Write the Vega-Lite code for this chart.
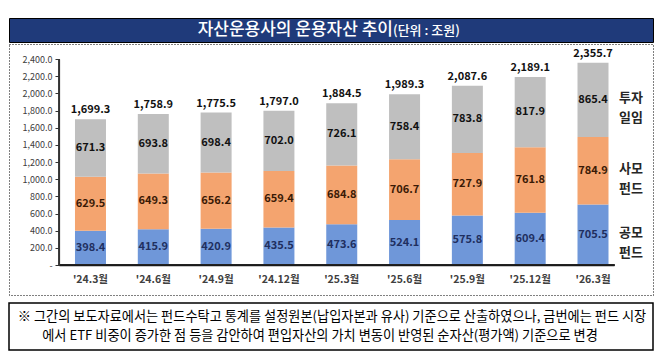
{
  "$schema": "https://vega.github.io/schema/vega-lite/v6.json",
  "padding": {"left": 8, "top": 17, "right": 0, "bottom": 0},
  "background": "white",
  "config": {"view": {"stroke": null}, "font": "Noto Sans CJK KR", "axis": {"domain": true}},
  "datasets": {
    "stack": [
      {"month": "'24.3월", "type": "공모펀드", "k": 1, "value": 398.4, "lab": "공모\n펀드"},
      {"month": "'24.3월", "type": "사모펀드", "k": 2, "value": 629.5, "lab": "사모\n펀드"},
      {"month": "'24.3월", "type": "투자일임", "k": 3, "value": 671.3, "lab": "투자\n일임"},
      {"month": "'24.6월", "type": "공모펀드", "k": 1, "value": 415.9, "lab": "공모\n펀드"},
      {"month": "'24.6월", "type": "사모펀드", "k": 2, "value": 649.3, "lab": "사모\n펀드"},
      {"month": "'24.6월", "type": "투자일임", "k": 3, "value": 693.8, "lab": "투자\n일임"},
      {"month": "'24.9월", "type": "공모펀드", "k": 1, "value": 420.9, "lab": "공모\n펀드"},
      {"month": "'24.9월", "type": "사모펀드", "k": 2, "value": 656.2, "lab": "사모\n펀드"},
      {"month": "'24.9월", "type": "투자일임", "k": 3, "value": 698.4, "lab": "투자\n일임"},
      {"month": "'24.12월", "type": "공모펀드", "k": 1, "value": 435.5, "lab": "공모\n펀드"},
      {"month": "'24.12월", "type": "사모펀드", "k": 2, "value": 659.4, "lab": "사모\n펀드"},
      {"month": "'24.12월", "type": "투자일임", "k": 3, "value": 702.0, "lab": "투자\n일임"},
      {"month": "'25.3월", "type": "공모펀드", "k": 1, "value": 473.6, "lab": "공모\n펀드"},
      {"month": "'25.3월", "type": "사모펀드", "k": 2, "value": 684.8, "lab": "사모\n펀드"},
      {"month": "'25.3월", "type": "투자일임", "k": 3, "value": 726.1, "lab": "투자\n일임"},
      {"month": "'25.6월", "type": "공모펀드", "k": 1, "value": 524.1, "lab": "공모\n펀드"},
      {"month": "'25.6월", "type": "사모펀드", "k": 2, "value": 706.7, "lab": "사모\n펀드"},
      {"month": "'25.6월", "type": "투자일임", "k": 3, "value": 758.4, "lab": "투자\n일임"},
      {"month": "'25.9월", "type": "공모펀드", "k": 1, "value": 575.8, "lab": "공모\n펀드"},
      {"month": "'25.9월", "type": "사모펀드", "k": 2, "value": 727.9, "lab": "사모\n펀드"},
      {"month": "'25.9월", "type": "투자일임", "k": 3, "value": 783.8, "lab": "투자\n일임"},
      {"month": "'25.12월", "type": "공모펀드", "k": 1, "value": 609.4, "lab": "공모\n펀드"},
      {"month": "'25.12월", "type": "사모펀드", "k": 2, "value": 761.8, "lab": "사모\n펀드"},
      {"month": "'25.12월", "type": "투자일임", "k": 3, "value": 817.9, "lab": "투자\n일임"},
      {"month": "'26.3월", "type": "공모펀드", "k": 1, "value": 705.5, "lab": "공모\n펀드"},
      {"month": "'26.3월", "type": "사모펀드", "k": 2, "value": 784.9, "lab": "사모\n펀드"},
      {"month": "'26.3월", "type": "투자일임", "k": 3, "value": 865.4, "lab": "투자\n일임"}
    ],
    "totals": [
      {"month": "'24.3월", "total": 1699.3},
      {"month": "'24.6월", "total": 1758.9},
      {"month": "'24.9월", "total": 1775.5},
      {"month": "'24.12월", "total": 1797.0},
      {"month": "'25.3월", "total": 1884.5},
      {"month": "'25.6월", "total": 1989.3},
      {"month": "'25.9월", "total": 2087.6},
      {"month": "'25.12월", "total": 2189.1},
      {"month": "'26.3월", "total": 2355.7}
    ]
  },
  "spacing": 6,
  "vconcat": [
    {
      "spacing": 0,
      "vconcat": [
        {
          "width": 644,
          "height": 24,
          "view": {"fill": "#1F3A7A", "stroke": "#000000", "strokeWidth": 1},
          "data": {"values": [{"a": "자산운용사의 운용자산 추이", "b": "(단위 : 조원)"}]},
          "layer": [
            {
              "mark": {"type": "text", "align": "right", "baseline": "middle", "dx": 62, "dy": 0, "fontSize": 17, "fontWeight": 500, "color": "#FFFFFF"},
              "encoding": {"text": {"field": "a"}}
            },
            {
              "mark": {"type": "text", "align": "left", "baseline": "middle", "dx": 62, "dy": 1, "fontSize": 13, "fontWeight": 500, "color": "#FFFFFF"},
              "encoding": {"text": {"field": "b"}}
            }
          ]
        },
        {
          "width": 644,
          "height": 251,
          "view": {"stroke": "#000000", "strokeDash": [1, 2], "strokeWidth": 1},
          "data": {"name": "stack"},
          "encoding": {
            "x": {
              "field": "month",
              "type": "nominal",
              "scale": {
                "domain": ["'24.3월", "'24.6월", "'24.9월", "'24.12월", "'25.3월", "'25.6월", "'25.9월", "'25.12월", "'26.3월"],
                "range": [50, 605],
                "paddingInner": 0.5065,
                "paddingOuter": 0.171,
                "align": 0.744
              },
              "axis": {
                "title": null,
                "orient": "bottom",
                "offset": -30,
                "domain": true,
                "domainColor": "#1A1A1A",
                "domainWidth": 1.5,
                "domainDash": [4, 0],
                "zindex": 1,
                "ticks": false,
                "labelAngle": 0,
                "labelFontSize": 10.5,
                "labelFontWeight": "bold",
                "labelColor": "#404040",
                "labelPadding": 9
              }
            }
          },
          "layer": [
            {
              "mark": {"type": "bar"},
              "encoding": {
                "y": {
                  "field": "value",
                  "type": "quantitative",
                  "stack": "zero",
                  "scale": {"domain": [0, 2400], "range": [221, 15], "nice": false, "zero": true},
                  "axis": {
                    "title": null,
                    "offset": -50,
                    "values": [0, 200, 400, 600, 800, 1000, 1200, 1400, 1600, 1800, 2000, 2200, 2400],
                    "labelExpr": "datum.value === 0 ? '-' : format(datum.value, ',.1f')",
                    "labelOverlap": false,
                    "grid": false,
                    "zindex": 1,
                    "domain": true,
                    "domainDash": [4, 0],
                    "ticks": true,
                    "tickDash": [4, 0],
                    "tickSize": 4,
                    "tickColor": "#333333",
                    "tickWidth": 1,
                    "domainColor": "#333333",
                    "domainWidth": 1.2,
                    "labelFontSize": 9,
                    "labelColor": "#404040",
                    "labelPadding": 3
                  }
                },
                "color": {
                  "field": "type",
                  "type": "nominal",
                  "scale": {"domain": ["공모펀드", "사모펀드", "투자일임"], "range": ["#6F97D9", "#F4A46F", "#BFBFBF"]},
                  "legend": null
                },
                "order": {"field": "k", "type": "quantitative"}
              }
            },
            {
              "mark": {"type": "rule", "color": "#262626", "strokeWidth": 1.5, "strokeDash": [4, 0]},
              "encoding": {
                "x": {"datum": "'24.3월", "bandPosition": -0.516},
                "x2": {"datum": "'26.3월", "bandPosition": 1.18},
                "y": {"datum": 0, "type": "quantitative", "axis": null}
              }
            },
            {
              "mark": {"type": "rule", "color": "#404040", "strokeWidth": 1.2, "strokeDash": [4, 0]},
              "encoding": {
                "x": {"datum": "'24.3월", "bandPosition": -0.516},
                "y": {"datum": 0, "type": "quantitative", "axis": null},
                "y2": {"datum": 2400}
              }
            },
            {
              "mark": {"type": "text", "fontSize": 11, "fontWeight": "bold", "baseline": "middle"},
              "encoding": {
                "y": {"field": "value", "type": "quantitative", "stack": "zero", "bandPosition": 0.5, "axis": null},
                "text": {"field": "value", "type": "quantitative", "format": ".1f"},
                "color": {
                  "field": "type",
                  "type": "nominal",
                  "scale": {"domain": ["공모펀드", "사모펀드", "투자일임"], "range": ["#1F2F60", "#3A1A06", "#111111"]},
                  "legend": null
                },
                "order": {"field": "k", "type": "quantitative"}
              }
            },
            {
              "data": {"name": "totals"},
              "mark": {"type": "text", "fontSize": 11, "fontWeight": "bold", "baseline": "bottom", "dy": -4, "color": "#111111"},
              "encoding": {
                "y": {"field": "total", "type": "quantitative", "axis": null},
                "text": {"field": "total", "type": "quantitative", "format": ",.1f"}
              }
            },
            {
              "transform": [{"filter": "datum.month === \"'26.3월\""}],
              "mark": {"type": "text", "dx": 38, "dy": -2, "lineBreak": "\n", "lineHeight": 20, "fontSize": 13, "fontWeight": "bold", "baseline": "middle", "color": "#262626"},
              "encoding": {
                "y": {"field": "value", "type": "quantitative", "stack": "zero", "bandPosition": 0.5, "axis": null},
                "detail": {"field": "type"},
                "text": {"field": "lab"},
                "order": {"field": "k", "type": "quantitative"}
              }
            }
          ],
          "resolve": {"scale": {"color": "independent"}, "axis": {"y": "independent", "x": "shared"}}
        }
      ]
    },
    {
      "width": 644,
      "height": 47,
      "view": {"stroke": "#000000", "strokeWidth": 1.5},
      "data": {"values": [{"l1": "※ 그간의 보도자료에서는 펀드수탁고 통계를 설정원본(납입자본과 유사) 기준으로 산출하였으나, 금번에는 펀드 시장", "l2": "에서 ETF 비중이 증가한 점 등을 감안하여 편입자산의 가치 변동이 반영된 순자산(평가액) 기준으로 변경"}]},
      "layer": [
        {
          "mark": {"type": "text", "align": "center", "baseline": "middle", "dx": 1, "dy": -9.5, "fontSize": 13.2, "color": "#000000"},
          "encoding": {"text": {"field": "l1"}}
        },
        {
          "mark": {"type": "text", "align": "center", "baseline": "middle", "dx": -11, "dy": 9.5, "fontSize": 13.2, "color": "#000000"},
          "encoding": {"text": {"field": "l2"}}
        }
      ]
    }
  ]
}
